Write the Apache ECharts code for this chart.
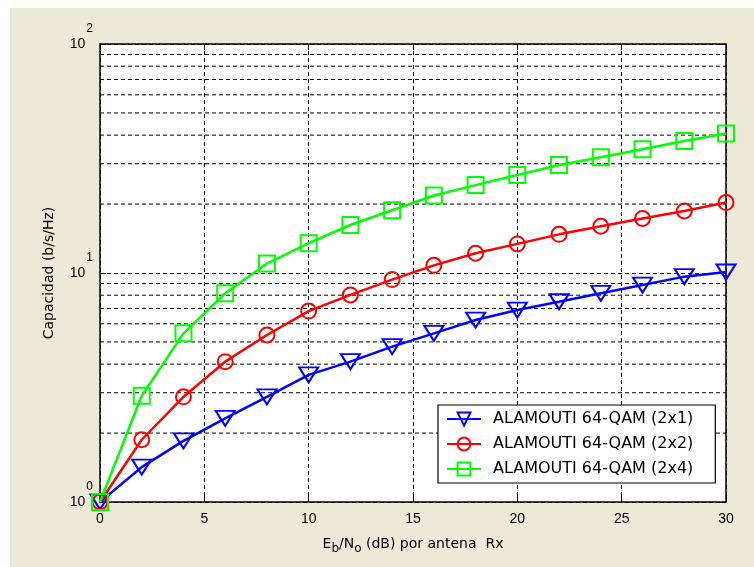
<!DOCTYPE html>
<html>
<head>
<meta charset="utf-8">
<script src="https://cdn.jsdelivr.net/npm/echarts@6/dist/echarts.min.js"></script>
<style>
html,body{margin:0;padding:0;background:#ffffff;width:754px;height:567px;overflow:hidden;}
#bg{position:absolute;left:10px;top:8px;right:0;bottom:0;background:#ECE9D8;}
#chart{position:absolute;left:0;top:0;width:754px;height:567px;}
</style>
</head>
<body>
<div id="bg"></div>
<div id="chart"></div>
<script>
// SNR values (dB)
const snr = [0, 2, 4, 6, 8, 10, 12, 14, 16, 18, 20, 22, 24, 26, 28, 30];
// Capacity (b/s/Hz)
const cap2x1 = [1, 1.42, 1.85, 2.32, 2.88, 3.59, 4.10, 4.77, 5.45, 6.23, 6.89, 7.49, 8.15, 8.86, 9.64, 10.1];
const cap2x2 = [1, 1.87, 2.88, 4.10, 5.36, 6.82, 8.02, 9.36, 10.8, 12.2, 13.4, 14.75, 16.0, 17.3, 18.65, 20.3];
const cap2x4 = [1, 2.91, 5.45, 8.15, 11.0, 13.5, 16.2, 18.8, 21.8, 24.2, 26.8, 29.6, 32.0, 34.7, 37.7, 40.7];
const seriesNames = ['ALAMOUTI 64-QAM (2x1)', 'ALAMOUTI 64-QAM (2x2)', 'ALAMOUTI 64-QAM (2x4)'];
// minor (log) grid line values
const minorGrid = [2, 3, 4, 5, 6, 7, 8, 9, 20, 30, 40, 50, 60, 70, 80, 90];
const xMin = 0, xMax = 30, xStep = 5;
const yMin = 1, yMax = 100;

const pairs = arr => snr.map((x, i) => [x, arr[i]]);
const tickFont = 'Liberation Sans';

const chart = echarts.init(document.getElementById('chart'), null, {renderer: 'canvas'});

function mkSeries(name, data, color, symbol, size) {
  return {
    name: name, type: 'line', data: pairs(data),
    xAxisIndex: 0, yAxisIndex: 0,
    symbol: symbol, symbolSize: size, showAllSymbol: true, z: 3,
    lineStyle: {color: color, width: 2.5},
    itemStyle: {color: 'rgba(255,255,255,0)', borderColor: color, borderWidth: 2},
    emphasis: {disabled: true}, animation: false
  };
}

const axisLineStyle = {show: true, onZero: false, lineStyle: {color: '#000', width: 1.5}};
const tickStyle = {show: true, inside: true, length: 6, lineStyle: {color: '#000'}};
const dashStyle = {color: '#000', type: [4, 3], width: 1};

const option = {
  backgroundColor: 'transparent',
  animation: false,
  grid: {left: 100, right: 28, top: 44, bottom: 65, containLabel: false, show: false},
  legend: {
    left: 438, top: 405, orient: 'vertical',
    backgroundColor: '#ffffff', borderColor: '#000', borderWidth: 1.2, borderRadius: 0,
    padding: [6, 22, 6, 8], itemGap: 9, itemWidth: 34, itemHeight: 16,
    textStyle: {fontFamily: 'DejaVu Sans', fontSize: 16, color: '#000', padding: [0, 0, 0, 7]},
    data: seriesNames, selectedMode: false
  },
  xAxis: [{
    type: 'value', min: xMin, max: xMax, interval: xStep, position: 'bottom',
    axisLine: axisLineStyle, axisTick: tickStyle,
    axisLabel: {show: true, margin: 10, fontFamily: tickFont, fontSize: 14, color: '#000'},
    splitLine: {show: true, lineStyle: dashStyle},
    name: '{n|E}{sub|b}{n|/N}{sub|o}{n| (dB) por antena  Rx}',
    nameLocation: 'middle', nameGap: 31,
    nameTextStyle: {
      rich: {
        n: {fontFamily: 'DejaVu Sans', fontSize: 14, color: '#000'},
        sub: {fontFamily: 'DejaVu Sans', fontSize: 12, color: '#000', padding: [10, 0, 0, 0]}
      }
    }
  }, {
    type: 'value', min: xMin, max: xMax, interval: xStep, position: 'top',
    axisLine: axisLineStyle, axisTick: tickStyle,
    axisLabel: {show: false}, splitLine: {show: false}
  }],
  yAxis: [{
    type: 'log', logBase: 10, min: yMin, max: yMax, position: 'left',
    axisLine: axisLineStyle, axisTick: tickStyle,
    axisLabel: {
      show: true, margin: 7,
      formatter: v => '{b|10}{s|' + Math.round(Math.log10(v)) + '}',
      rich: {
        b: {fontFamily: tickFont, fontSize: 14, color: '#000'},
        s: {fontFamily: tickFont, fontSize: 12, color: '#000', padding: [0, 0, 30, 1]}
      }
    },
    splitLine: {show: true, lineStyle: dashStyle},
    name: 'Capacidad (b/s/Hz)', nameLocation: 'middle', nameGap: 44,
    nameTextStyle: {fontFamily: 'DejaVu Sans', fontSize: 14, color: '#000'}
  }, {
    type: 'log', logBase: 10, min: yMin, max: yMax, position: 'right',
    axisLine: axisLineStyle, axisTick: tickStyle,
    axisLabel: {show: false}, splitLine: {show: false}
  }],
  series: [
    {
      // white plot background + minor log grid lines, placed through the axes
      name: 'bggrid', type: 'custom', xAxisIndex: 0, yAxisIndex: 0, z: -1, silent: true,
      data: [0], clip: false,
      renderItem: (params, api) => {
        const tl = api.coord([xMin, yMax]);
        const br = api.coord([xMax, yMin]);
        const children = [{
          type: 'rect', shape: {x: tl[0], y: tl[1], width: br[0] - tl[0], height: br[1] - tl[1]},
          style: {fill: '#ffffff'}, z2: 0
        }];
        minorGrid.forEach(v => {
          const a = api.coord([xMin, v]);
          const b = api.coord([xMax, v]);
          children.push({type: 'line', shape: {x1: a[0], y1: a[1], x2: b[0], y2: b[1]},
            style: {stroke: '#000', lineWidth: 1, lineDash: [4, 3]}, z2: 1});
        });
        return {type: 'group', children: children};
      }
    },
    mkSeries(seriesNames[0], cap2x1, '#0000ff', 'triangle', [19, 15]),
    mkSeries(seriesNames[1], cap2x2, '#ff0000', 'circle', 15),
    mkSeries(seriesNames[2], cap2x4, '#00ff00', 'rect', 16)
  ]
};
// downward triangle
option.series[1].symbolRotate = 180;
chart.setOption(option);
</script>
</body>
</html>
